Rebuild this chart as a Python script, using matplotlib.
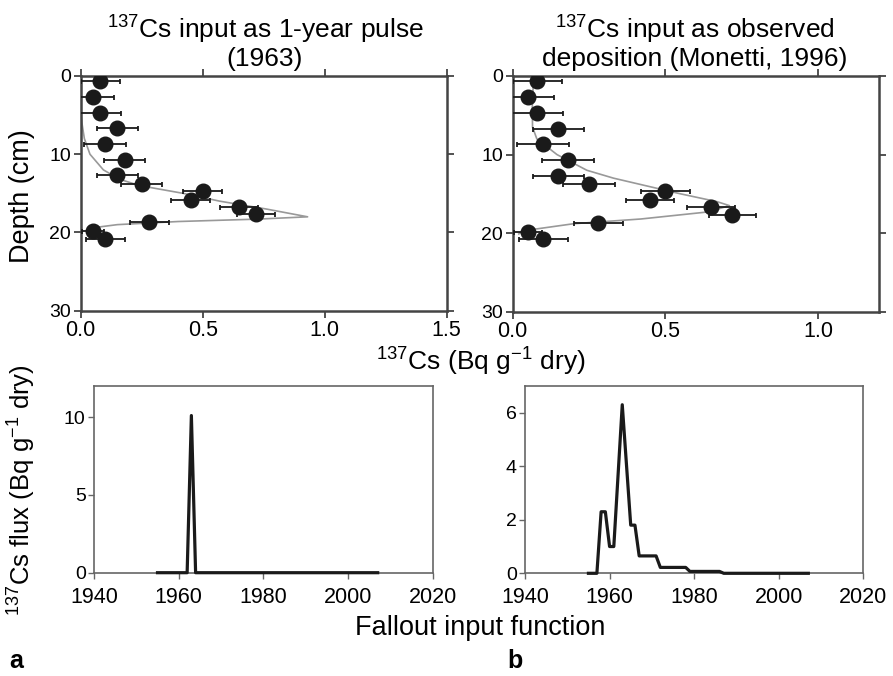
import numpy as np
import matplotlib
matplotlib.use('Agg')
from matplotlib import pyplot as plt

plt.rcParams['font.family'] = ['Liberation Sans', 'DejaVu Sans']
plt.rcParams['mathtext.default'] = 'regular'

# measured 137Cs activity (Bq/g dry) vs depth (cm)
cs = [0.08, 0.05, 0.08, 0.15, 0.10, 0.18, 0.15, 0.25, 0.50, 0.45, 0.65, 0.72, 0.28, 0.05, 0.10]
depth = [0.7, 2.7, 4.7, 6.7, 8.7, 10.7, 12.7, 13.8, 14.7, 15.8, 16.7, 17.7, 18.7, 19.8, 20.8]
cs_err = [0.08, 0.085, 0.085, 0.085, 0.085, 0.085, 0.085, 0.085, 0.08, 0.08, 0.078, 0.078, 0.08, 0.045, 0.08]

# model curve, 1-year pulse
model_a_x = [0.0, 0.005, 0.015, 0.038, 0.093, 0.16, 0.24, 0.42, 0.57, 0.76, 0.93, 0.72, 0.40, 0.15, 0.05, 0.03]
model_a_d = [4.5, 6.0, 8.0, 10.0, 12.0, 13.2, 14.0, 15.0, 16.0, 17.0, 18.0, 18.3, 18.6, 19.0, 19.4, 19.6]

# model curve, observed deposition
model_b_x = [0.068, 0.064, 0.065, 0.079, 0.145, 0.243, 0.33, 0.44, 0.55, 0.67, 0.71, 0.64, 0.42, 0.20, 0.035, 0.02]
model_b_d = [0.5, 4.0, 6.5, 8.0, 10.0, 12.0, 13.0, 14.0, 15.0, 16.0, 16.5, 17.3, 18.2, 18.8, 19.7, 20.1]

# fallout input functions (Bq/g dry)
pulse_year = [1955, 1962, 1963, 1964, 2007]
pulse_flux = [0, 0, 10.1, 0, 0]
obs_year = [1955, 1957, 1958, 1959, 1960, 1961, 1963, 1965, 1966, 1967, 1971, 1972, 1978, 1979, 1986, 1987, 2007]
obs_flux = [0, 0, 2.3, 2.3, 1.0, 1.0, 6.3, 1.8, 1.8, 0.65, 0.65, 0.22, 0.22, 0.07, 0.07, 0, 0]

W, H = 893, 676
fig = plt.figure(figsize=(W / 100, H / 100), dpi=100)


def px_axes(x0, y0, x1, y1):
    return fig.add_axes([x0 / W, 1 - y1 / H, (x1 - x0) / W, (y1 - y0) / H])


spine_col = '#444444'
xfs = 15.5
yfs = 14


def depth_panel(ax, mx, md, xmax, xticks):
    ax.plot(mx, md, color='#999999', lw=1.2, zorder=2)
    ax.errorbar(cs, depth, xerr=cs_err, fmt='o', color='#1a1a1a', ms=10.5,
                ecolor='#1a1a1a', elinewidth=1.3, capsize=1.8, capthick=1.3, zorder=3)
    ax.set_xlim(0, xmax)
    ax.set_ylim(30, 0)
    ax.set_xticks(xticks)
    ax.set_xticklabels(['%.1f' % t for t in xticks])
    ax.set_yticks([0, 10, 20, 30])
    ax.tick_params(direction='out', top=True, right=True, labeltop=False,
                   labelright=False, length=5, width=1.3, color=spine_col, pad=2)
    ax.tick_params(axis='x', labelsize=xfs)
    ax.tick_params(axis='y', labelsize=yfs)
    for s in ax.spines.values():
        s.set_color(spine_col)
        s.set_linewidth(1.8)


ax1 = px_axes(80.7, 76, 446.7, 310.7)
depth_panel(ax1, model_a_x, model_a_d, 1.5, [0.0, 0.5, 1.0, 1.5])
ax2 = px_axes(512.7, 76, 879, 311.7)
depth_panel(ax2, model_b_x, model_b_d, 1.2, [0.0, 0.5, 1.0])


def flux_panel(ax, yr, fl, ymax, yticks):
    ax.plot(yr, fl, color='#1a1a1a', lw=2.3, clip_on=False, zorder=3)
    ax.set_xlim(1940, 2020)
    ax.set_ylim(0, ymax)
    ax.set_xticks([1940, 1960, 1980, 2000, 2020])
    ax.set_yticks(yticks)
    ax.tick_params(direction='out', length=4, width=1.0, color='#666666', pad=2)
    ax.tick_params(axis='x', labelsize=xfs, pad=6)
    ax.tick_params(axis='y', labelsize=yfs)
    for s in ax.spines.values():
        s.set_color('#666666')
        s.set_linewidth(1.2)


ax3 = px_axes(94, 386, 432.7, 572.7)
flux_panel(ax3, pulse_year, pulse_flux, 12, [0, 5, 10])
ax4 = px_axes(525, 386, 863.3, 573.3)
flux_panel(ax4, obs_year, obs_flux, 7, [0, 2, 4, 6])

tfs = 19
fig.text(265 / W, 1 - 42 / H, '$^{137}$Cs input as 1-year pulse\n(1963)',
         ha='center', va='center', fontsize=tfs, linespacing=1.05)
fig.text(695 / W, 1 - 42 / H, '$^{137}$Cs input as observed\ndeposition (Monetti, 1996)',
         ha='center', va='center', fontsize=tfs, linespacing=1.05)
fig.text(22 / W, 1 - 196 / H, 'Depth (cm)', rotation=90, ha='center', va='center', fontsize=19.5)
fig.text(481 / W, 1 - 362 / H, '$^{137}$Cs (Bq g$^{-1}$ dry)', ha='center', va='center', fontsize=19)
fig.text(22 / W, 1 - 490 / H, '$^{137}$Cs flux (Bq g$^{-1}$ dry)', rotation=90,
         ha='center', va='center', fontsize=18.5)
fig.text(480 / W, 1 - 628 / H, 'Fallout input function', ha='center', va='center', fontsize=19.5)
fig.text(16 / W, 1 - 661 / H, 'a', ha='center', va='center', fontsize=18, fontweight='bold')
fig.text(515 / W, 1 - 661 / H, 'b', ha='center', va='center', fontsize=18, fontweight='bold')

fig.savefig('out.png', dpi=100)
